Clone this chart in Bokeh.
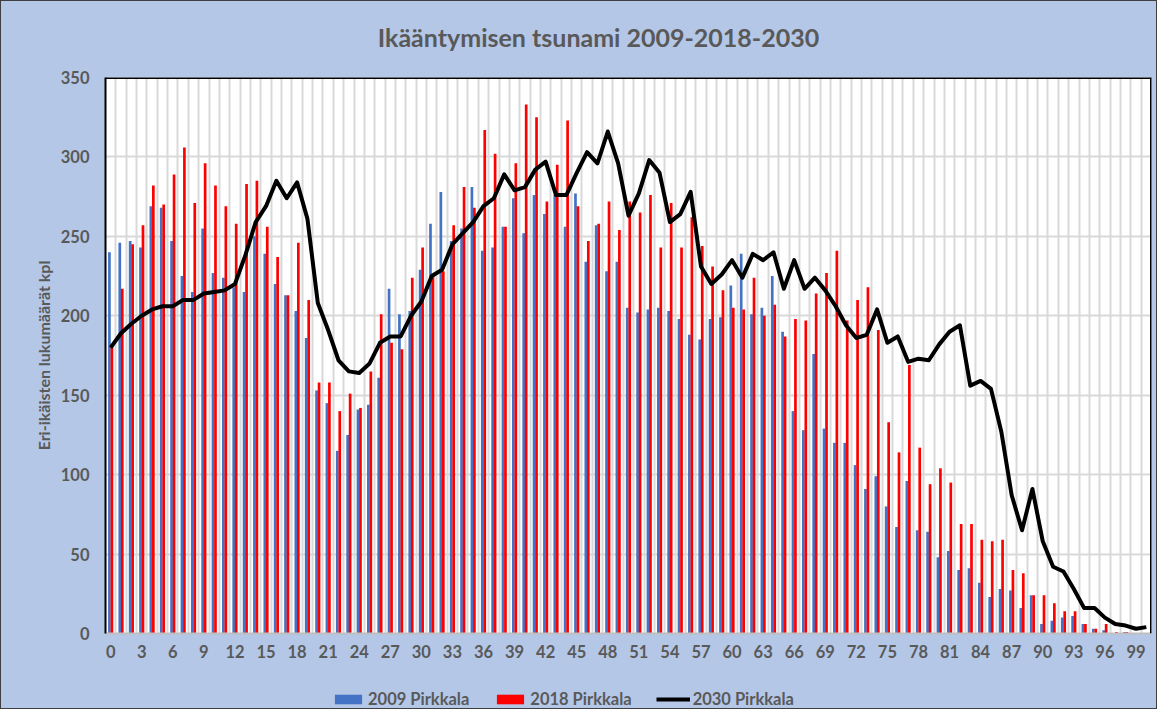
from bokeh.plotting import figure
from bokeh.layouts import column
from bokeh.models import (ColumnDataSource, FixedTicker, Legend, LegendItem,
                          Range1d, Span, Label)
from bokeh.transform import dodge
from bokeh.embed import file_html
from bokeh.resources import INLINE

title = "Ikääntymisen tsunami 2009-2018-2030"
y_label = "Eri-ikäisten lukumäärät kpl"
series_names = ["2009 Pirkkala", "2018 Pirkkala", "2030 Pirkkala"]

ages = list(range(0, 101))
x_ticks = list(range(0, 100, 3))
y_ticks = [0, 50, 100, 150, 200, 250, 300, 350]

v2009 = [240, 246, 247, 243, 269, 268, 247, 225, 215, 255,
         227, 224, 218, 215, 250, 239, 220, 213, 203, 186,
         153, 145, 115, 125, 141, 144, 161, 217, 201, 203,
         229, 258, 278, 247, 255, 281, 241, 243, 256, 274,
         252, 276, 264, 276, 256, 277, 234, 257, 228, 234,
         205, 202, 204, 205, 203, 198, 188, 185, 198, 199,
         219, 239, 201, 205, 225, 190, 140, 128, 176, 129,
         120, 120, 106, 91, 99, 80, 67, 96, 65, 64,
         48, 52, 40, 41, 32, 23, 28, 27, 16, 24,
         6, 8, 10, 11, 6, 3, 2, 0, 1, 0,
         0]

v2018 = [182, 217, 245, 257, 282, 270, 289, 306, 271, 296,
         282, 269, 258, 283, 285, 256, 237, 213, 246, 210,
         158, 158, 140, 151, 142, 165, 201, 183, 179, 224,
         243, 225, 228, 257, 281, 268, 317, 302, 256, 296,
         333, 325, 272, 295, 323, 269, 247, 258, 272, 254,
         272, 265, 276, 243, 271, 243, 262, 244, 231, 216,
         205, 204, 224, 200, 207, 187, 198, 197, 214, 227,
         241, 197, 210, 218, 191, 133, 114, 169, 117, 94,
         104, 95, 69, 69, 59, 58, 59, 40, 38, 24,
         24, 19, 14, 14, 6, 3, 6, 1, 1, 0,
         0]

v2030 = [180, 189, 195, 200, 204, 206, 206, 210, 210, 214,
         215, 216, 220, 238, 259, 269, 285, 274, 284, 261,
         208, 191, 172, 165, 164, 170, 183, 187, 187, 200,
         209, 225, 229, 245, 252, 259, 269, 274, 289, 279,
         281, 292, 297, 276, 276, 290, 303, 296, 316, 296,
         263, 277, 298, 290, 259, 264, 278, 231, 220, 226,
         235, 224, 239, 235, 240, 217, 235, 217, 224, 216,
         206, 194, 186, 188, 204, 183, 187, 171, 173, 172,
         182, 190, 194, 156, 159, 154, 127, 87, 65, 91,
         58, 42, 39, 28, 16, 16, 10, 6, 5, 3,
         4]

BLUE = "#4472C4"
RED = "#FF0000"
TEXT = "#595959"
BG = "#B4C7E7"
GRID = "#D9D9D9"
FONT = "Lato"

BORDER_L, BORDER_R, FRAME_W = 105, 6, 1046


def strip(h):
    f = figure(frame_width=FRAME_W, frame_height=h,
               min_border_left=BORDER_L, min_border_right=BORDER_R,
               min_border_top=0, min_border_bottom=0,
               x_range=Range1d(0, 1), y_range=Range1d(0, 1),
               x_axis_location=None, y_axis_location=None,
               output_backend="svg", toolbar_location=None)
    f.background_fill_alpha = 0
    f.border_fill_alpha = 0
    f.outline_line_color = None
    f.grid.visible = False
    return f


# ---- title strip ----
top = strip(60)
top.add_layout(Label(x=493, y=24, x_units="screen", y_units="screen",
                     text=title, text_align="center", text_baseline="middle",
                     text_font=FONT, text_font_size="25px",
                     text_font_style="bold", text_color=TEXT))

# ---- main chart ----
src = ColumnDataSource(dict(age=ages, v2009=v2009, v2018=v2018, v2030=v2030))

p = figure(frame_width=FRAME_W, frame_height=556,
           x_range=Range1d(-0.5, 100.5), y_range=Range1d(0, 350),
           output_backend="svg", toolbar_location=None,
           min_border_left=BORDER_L, min_border_right=BORDER_R,
           min_border_top=17, min_border_bottom=30)

p.background_fill_color = "white"
p.border_fill_alpha = 0
p.outline_line_color = None

p.vbar(x=dodge("age", -0.12), top="v2009", width=0.26, source=src,
       fill_color=BLUE, line_color=None)
p.vbar(x=dodge("age", 0.12), top="v2018", width=0.26, source=src,
       fill_color=RED, line_color=None)
p.line("age", "v2030", source=src, line_color="black", line_width=4,
       line_join="round")

p.xgrid.ticker = FixedTicker(ticks=[a - 0.5 for a in ages] + [100.5])
p.xgrid.grid_line_color = GRID
p.xgrid.grid_line_width = 2
p.ygrid.ticker = FixedTicker(ticks=y_ticks)
p.ygrid.grid_line_color = GRID
p.ygrid.grid_line_width = 2

for ax in (p.xaxis[0], p.yaxis[0]):
    ax.major_tick_line_color = None
    ax.minor_tick_line_color = None
    ax.major_label_text_font = FONT
    ax.major_label_text_font_size = "16.5px"
    ax.major_label_text_font_style = "bold"
    ax.major_label_text_color = TEXT

p.xaxis.ticker = FixedTicker(ticks=x_ticks)
p.xaxis.axis_line_color = "#BFBFBF"
p.xaxis.axis_line_width = 2
p.xaxis.major_label_standoff = 5

p.yaxis.ticker = FixedTicker(ticks=y_ticks)
p.yaxis.axis_line_color = "black"
p.yaxis.axis_line_width = 2
p.yaxis.major_label_standoff = 10
p.yaxis.axis_label = y_label
p.yaxis.axis_label_text_font = FONT
p.yaxis.axis_label_text_font_size = "16px"
p.yaxis.axis_label_text_font_style = "bold"
p.yaxis.axis_label_text_color = TEXT
p.yaxis.axis_label_standoff = 5

p.add_layout(Span(location=350, dimension="width", line_color="black", line_width=3))
p.add_layout(Span(location=100.5, dimension="height", line_color="black", line_width=3))

# ---- legend strip ----
leg = strip(46)
k1 = leg.vbar(x=[-5], top=[-5], width=0.1, fill_color=BLUE, line_color=None)
k2 = leg.vbar(x=[-5], top=[-5], width=0.1, fill_color=RED, line_color=None)
k3 = leg.line(x=[-5, -4], y=[-5, -5], line_color="black", line_width=4)

legend = Legend(items=[LegendItem(label=series_names[0], renderers=[k1]),
                       LegendItem(label=series_names[1], renderers=[k2]),
                       LegendItem(label=series_names[2], renderers=[k3])],
                orientation="horizontal", location=(226, 0),
                label_text_font=FONT, label_text_font_size="16.5px",
                label_text_font_style="bold", label_text_color=TEXT,
                glyph_width=34, glyph_height=12, label_standoff=3, spacing=24,
                background_fill_alpha=0, border_line_alpha=0,
                padding=0, margin=0)
leg.add_layout(legend, "center")

layout = column(top, p, leg, spacing=0,
                styles={"background-color": BG,
                        "outline": "1px solid #3F3F3F",
                        "outline-offset": "-1px"})

open("out.html", "w").write(file_html(layout, INLINE))
